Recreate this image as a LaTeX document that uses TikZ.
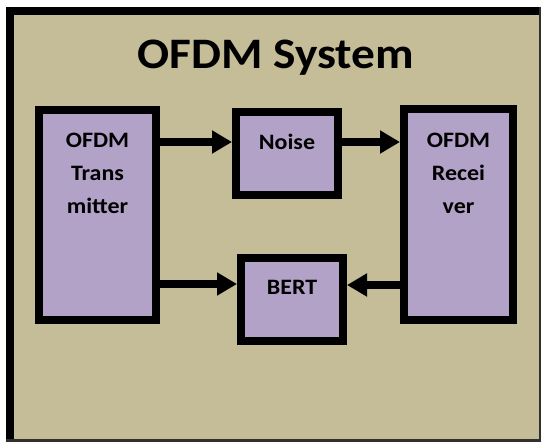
\documentclass[tikz,border=0pt]{standalone}
\usepackage{fontspec}
\setmainfont[FakeStretch=1.09]{Carlito}
\usetikzlibrary{arrows.meta}
\definecolor{tanbg}{HTML}{C4BD97}
\definecolor{boxfill}{HTML}{B3A2C7}
\definecolor{edgedark}{HTML}{303030}
\begin{document}
\begin{tikzpicture}[x=1pt,y=-1pt,
  blockbox/.style={draw=black,fill=boxfill,line width=8pt,inner sep=0pt,rectangle},
  blocktext/.style={font=\fontsize{22}{33}\selectfont\bfseries,align=center,inner sep=0pt,anchor=base},
  arr/.style={line width=7.5pt,-{Triangle[length=20pt,width=22pt]}}]
\useasboundingbox (0,0) rectangle (541,442);
% frame
\fill[tanbg] (6,7) rectangle (541,442);
\fill[black] (6,7) rectangle (14,442);
\fill[black] (6,7) rectangle (541,15);
\fill[edgedark] (539,7) rectangle (541,442);
\fill[edgedark] (6,439) rectangle (541,442);
\node[font=\fontsize{43.5}{50}\selectfont\bfseries,inner sep=0pt,anchor=base] (title) at (276,68.5) {OFDM System};
% boxes
\node[blockbox,minimum width=117pt,minimum height=210pt] (tx) at (97.5,215) {};
\node[blockbox,minimum width=102pt,minimum height=83pt] (nz) at (287,153.5) {};
\node[blockbox,minimum width=109pt,minimum height=211pt] (rx) at (458.5,214.5) {};
\node[blockbox,minimum width=102pt,minimum height=83pt] (bert) at (292,299.5) {};
% texts
\node[blocktext] (txt) at (97.5,213) {OFDM\\Trans\\mitter};
\node[blocktext] (rxt) at (458.5,213) {OFDM\\Recei\\ver};
\node[blocktext] (nzt) at (287,149) {Noise};
\node[blocktext] (bertt) at (292,294) {BERT};
% arrow levels
\coordinate (ya) at (0,142);
\coordinate (yb) at (0,284);
\coordinate (yc) at (0,285);
\draw[arr] (tx.east |- ya) -- (nz.west |- ya);
\draw[arr] (nz.east |- ya) -- (rx.west |- ya);
\draw[arr] (tx.east |- yb) -- (bert.west |- yb);
\draw[arr] (rx.west |- yc) -- (bert.east |- yc);
\end{tikzpicture}
\end{document}
